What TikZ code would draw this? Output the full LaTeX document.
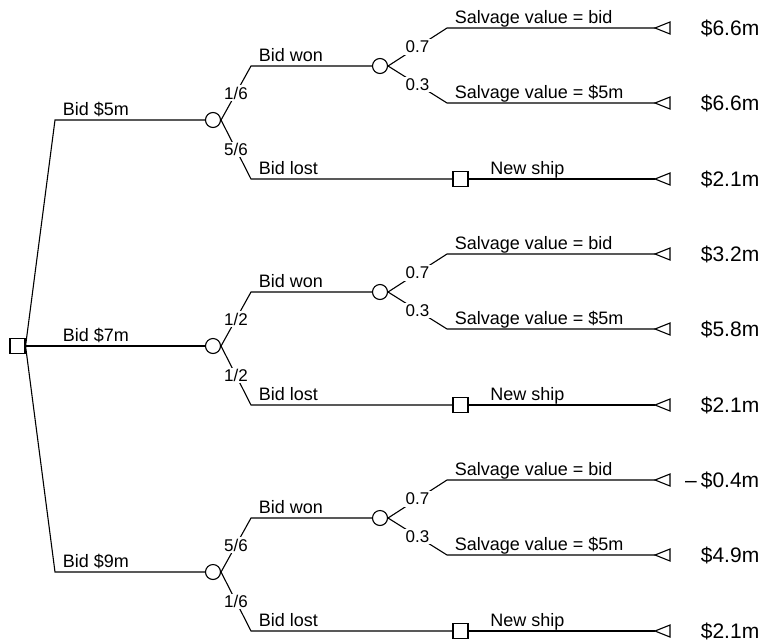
\documentclass[tikz,border=0pt]{standalone}
\usepackage{fontspec}
\setmainfont{Liberation Sans}

\begin{document}
\begin{tikzpicture}[x=1pt, y=-1pt, line width=1.1pt,
	decision/.style={draw, rectangle, minimum size=15pt, inner sep=0pt},
	chance/.style={draw, circle, minimum size=15pt, inner sep=0pt},
	branch/.style={anchor=base west, xshift=4pt, yshift=4.5pt, font=\fontsize{18}{20}\selectfont},
	prob/.style={fill=white, inner sep=1.5pt, font=\fontsize{17}{19}\selectfont},
	payval/.style={anchor=west, font=\fontsize{21}{24}\selectfont},
	payoff/.pic={\draw (0,0) -- (15,-6) -- (15,6) -- cycle;}]

		\useasboundingbox (0,0) rectangle (759,640);

		\node[decision] (r) at (17.5,346) {};

		\coordinate (b1) at (55,120);
		\node[chance] (c1) at (213,120) {};
		\coordinate (w1) at (251,66);
		\node[chance] (cw1) at (380,66) {};
		\coordinate (l1) at (251,179);
		\node[decision] (n1) at (460.5,179) {};
		\coordinate (s11) at (447,28);
		\coordinate (s12) at (447,103);
		\coordinate (t11) at (655,28);
		\coordinate (t12) at (655,103);
		\coordinate (t13) at (655,179);

		\coordinate (b2) at (55,346);
		\node[chance] (c2) at (213,346) {};
		\coordinate (w2) at (251,292);
		\node[chance] (cw2) at (380,292) {};
		\coordinate (l2) at (251,405);
		\node[decision] (n2) at (460.5,405) {};
		\coordinate (s21) at (447,254);
		\coordinate (s22) at (447,329);
		\coordinate (t21) at (655,254);
		\coordinate (t22) at (655,329);
		\coordinate (t23) at (655,405);

		\coordinate (b3) at (55,572);
		\node[chance] (c3) at (213,572) {};
		\coordinate (w3) at (251,518);
		\node[chance] (cw3) at (380,518) {};
		\coordinate (l3) at (251,631);
		\node[decision] (n3) at (460.5,631) {};
		\coordinate (s31) at (447,480);
		\coordinate (s32) at (447,555);
		\coordinate (t31) at (655,480);
		\coordinate (t32) at (655,555);
		\coordinate (t33) at (655,631);

		\draw (r.east) -- (b1) -- (c1) node[branch, pos=0] {Bid \$5m};
		\draw (c1.east) -- (w1) node[prob, midway] {1/6} -- (cw1) node[branch, pos=0] {Bid won};
		\draw (c1.east) -- (l1) node[prob, midway] {5/6} -- (n1) node[branch, pos=0] {Bid lost};
		\draw (cw1.east) -- (s11) node[prob, midway] {0.7} -- (t11) node[branch, pos=0] {Salvage value = bid} pic {payoff};
		\draw (cw1.east) -- (s12) node[prob, midway] {0.3} -- (t12) node[branch, pos=0] {Salvage value = \$5m} pic {payoff};
		\draw (n1) -- (t13) node[branch, pos=0, xshift=14pt] {New ship} pic {payoff};

		\draw (r.east) -- (b2) -- (c2) node[branch, pos=0] {Bid \$7m};
		\draw (c2.east) -- (w2) node[prob, midway] {1/2} -- (cw2) node[branch, pos=0] {Bid won};
		\draw (c2.east) -- (l2) node[prob, midway] {1/2} -- (n2) node[branch, pos=0] {Bid lost};
		\draw (cw2.east) -- (s21) node[prob, midway] {0.7} -- (t21) node[branch, pos=0] {Salvage value = bid} pic {payoff};
		\draw (cw2.east) -- (s22) node[prob, midway] {0.3} -- (t22) node[branch, pos=0] {Salvage value = \$5m} pic {payoff};
		\draw (n2) -- (t23) node[branch, pos=0, xshift=14pt] {New ship} pic {payoff};

		\draw (r.east) -- (b3) -- (c3) node[branch, pos=0] {Bid \$9m};
		\draw (c3.east) -- (w3) node[prob, midway] {5/6} -- (cw3) node[branch, pos=0] {Bid won};
		\draw (c3.east) -- (l3) node[prob, midway] {1/6} -- (n3) node[branch, pos=0] {Bid lost};
		\draw (cw3.east) -- (s31) node[prob, midway] {0.7} -- (t31) node[branch, pos=0] {Salvage value = bid} pic {payoff};
		\draw (cw3.east) -- (s32) node[prob, midway] {0.3} -- (t32) node[branch, pos=0] {Salvage value = \$5m} pic {payoff};
		\draw (n3) -- (t33) node[branch, pos=0, xshift=14pt] {New ship} pic {payoff};

		\node[payval] (v11) at (697,28) {\$6.6m};
		\node[payval] (v12) at (697,103) {\$6.6m};
		\node[payval] (v13) at (697,179) {\$2.1m};
		\node[payval] (v21) at (697,254) {\$3.2m};
		\node[payval] (v22) at (697,329) {\$5.8m};
		\node[payval] (v23) at (697,405) {\$2.1m};
		\node[payval] (v31) at (697,480) {\llap{--\hspace{4pt}}\$0.4m};
		\node[payval] (v32) at (697,555) {\$4.9m};
		\node[payval] (v33) at (697,631) {\$2.1m};

\end{tikzpicture}
\end{document}
